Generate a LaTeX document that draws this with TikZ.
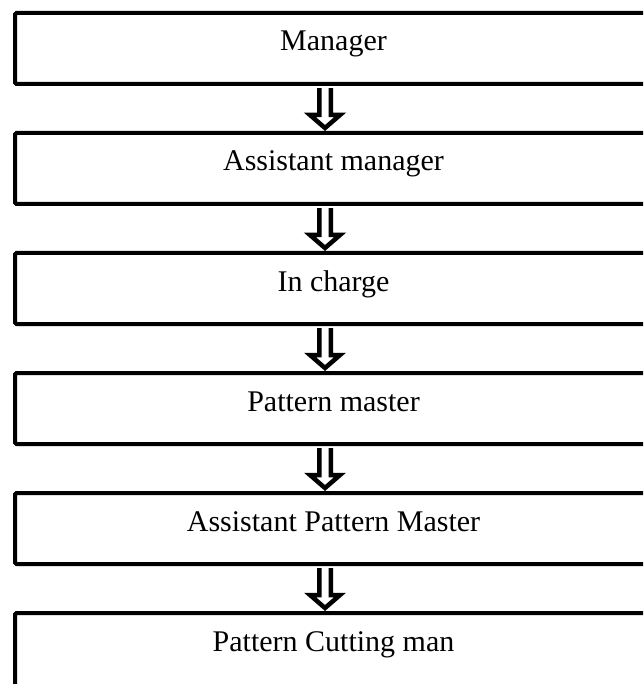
\documentclass[tikz,border=0pt]{standalone}
\usepackage{fontspec}
\setmainfont{Liberation Serif}
\usetikzlibrary{calc}
\begin{document}
\begin{tikzpicture}[x=1pt,y=1pt,
  box/.style={draw=black,line width=4pt,rounded corners=1.5pt,rectangle,
    minimum width=685pt,minimum height=71pt,inner sep=0pt},
  lastbox/.style={box,minimum height=90pt},
  lbl/.style={font=\fontsize{30}{36}\selectfont,inner sep=0pt,anchor=base},
  harrow/.style={draw=black,fill=white,line width=4.5pt,line join=miter}]
\useasboundingbox (0,0) rectangle (643,-684);
\clip (0,0) rectangle (643,-684);
\coordinate (ax) at (325,0);
\coordinate (tx) at (333.5,0);
% boxes (top line centres at 13 + 120k)
\node[box] (b1) at (357.5,-48.5) {};
\node[box] (b2) at (357.5,-168.5) {};
\node[box] (b3) at (357.5,-288.5) {};
\node[box] (b4) at (357.5,-408.5) {};
\node[box] (b5) at (357.5,-528.5) {};
\node[lastbox] (b6) at (357.5,-658) {};
% labels
\node[lbl] (t1) at ($(b1.north -| tx)+(0,-40)$) {Manager};
\node[lbl] (t2) at ($(b2.north -| tx)+(0,-40)$) {Assistant manager};
\node[lbl] (t3) at ($(b3.north -| tx)+(0,-40)$) {In charge};
\node[lbl] (t4) at ($(b4.north -| tx)+(0,-40)$) {Pattern master};
\node[lbl] (t5) at ($(b5.north -| tx)+(0,-40)$) {Assistant Pattern Master};
\node[lbl] (t6) at ($(b6.north -| tx)+(0,-40)$) {Pattern Cutting man};
% hollow arrows
\foreach \a/\b in {b1/b2,b2/b3,b3/b4,b4/b5,b5/b6}{
  \draw[harrow]
    ($(\a.south -| ax)+(-5.75,-2.2)$) --
    ($(\b.north -| ax)+(-5.75,16)$) --
    ($(\b.north -| ax)+(-15,16)$) --
    ($(\b.north -| ax)+(0,3)$) --
    ($(\b.north -| ax)+(15,16)$) --
    ($(\b.north -| ax)+(5.75,16)$) --
    ($(\a.south -| ax)+(5.75,-2.2)$);
}
\end{tikzpicture}
\end{document}
